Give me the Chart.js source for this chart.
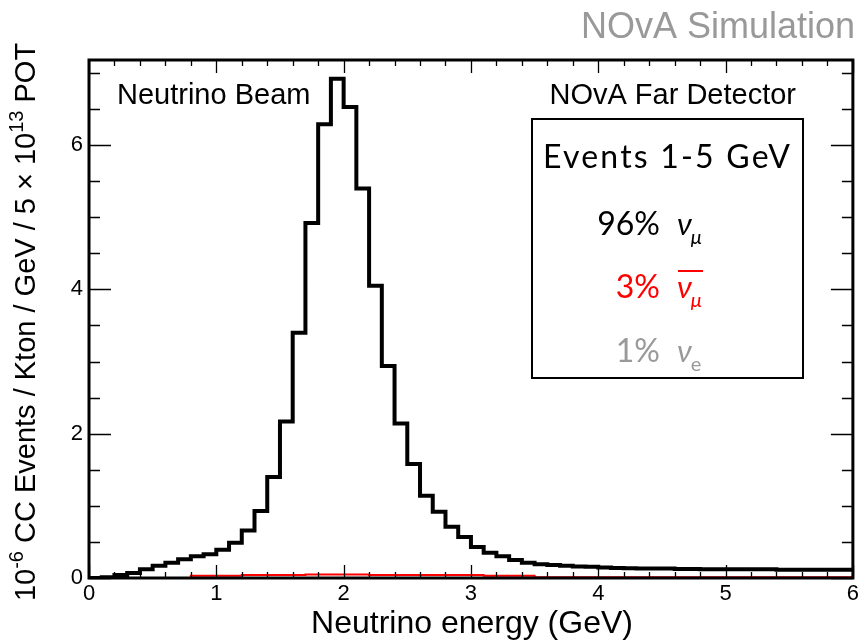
<!DOCTYPE html>
<html>
<head>
<meta charset="utf-8">
<title>NOvA Far Detector - neutrino beam spectrum</title>
<script src="https://cdn.jsdelivr.net/npm/chart.js@4.4.1/dist/chart.umd.min.js"></script>
<style>
  html, body { margin: 0; padding: 0; background: #fff; }
  #wrap { position: relative; width: 862px; height: 643px; }
</style>
</head>
<body>
<div id="wrap"><canvas id="chart"></canvas></div>
<script>
/* ============================================================
   DATA
============================================================ */
// bin edges in GeV, 60 bins of 0.1 GeV
const binEdges = [
  0.0, 0.1, 0.2, 0.3, 0.4, 0.5, 0.6, 0.7, 0.8, 0.9,
  1.0, 1.1, 1.2, 1.3, 1.4, 1.5, 1.6, 1.7, 1.8, 1.9,
  2.0, 2.1, 2.2, 2.3, 2.4, 2.5, 2.6, 2.7, 2.8, 2.9,
  3.0, 3.1, 3.2, 3.3, 3.4, 3.5, 3.6, 3.7, 3.8, 3.9,
  4.0, 4.1, 4.2, 4.3, 4.4, 4.5, 4.6, 4.7, 4.8, 4.9,
  5.0, 5.1, 5.2, 5.3, 5.4, 5.5, 5.6, 5.7, 5.8, 5.9, 6.0
];
// nu_mu CC rate per bin
const numuRate = [
  0.00, 0.01, 0.04, 0.07, 0.12, 0.17, 0.21, 0.26, 0.30, 0.33,
  0.39, 0.49, 0.66, 0.93, 1.40, 2.17, 3.40, 4.92, 6.29, 6.92,
  6.53, 5.40, 4.05, 2.94, 2.14, 1.58, 1.14, 0.92, 0.71, 0.57,
  0.43, 0.35, 0.30, 0.25, 0.21, 0.19, 0.18, 0.17, 0.16, 0.155,
  0.145, 0.14, 0.135, 0.13, 0.13, 0.13, 0.125, 0.125, 0.12, 0.12,
  0.12, 0.12, 0.12, 0.12, 0.115, 0.115, 0.115, 0.115, 0.115, 0.115
];
// anti nu_mu CC rate per bin
const numubarRate = [
  0.00, 0.00, 0.00, 0.00, 0.00, 0.00, 0.00, 0.00, 0.03, 0.03,
  0.03, 0.03, 0.04, 0.04, 0.04, 0.04, 0.04, 0.05, 0.05, 0.05,
  0.05, 0.05, 0.04, 0.04, 0.04, 0.04, 0.04, 0.04, 0.04, 0.04,
  0.04, 0.03, 0.03, 0.03, 0.03, 0.01, 0.01, 0.01, 0.01, 0.01,
  0.01, 0.01, 0.01, 0.01, 0.01, 0.01, 0.01, 0.01, 0.01, 0.01,
  0.01, 0.01, 0.01, 0.01, 0.01, 0.01, 0.01, 0.01, 0.01, 0.01
];

const xTickValues = [0, 1, 2, 3, 4, 5, 6];
const yTickValues = [0, 2, 4, 6];
const xMinorStep = 0.2;
const yMinorStep = 0.5;
const yMax = 7.18;

const boxTitle = 'Events 1-5 GeV';
const boxPercents = ['96%', '3%', '1%'];
const boxFlavours = [
  { sym: 'ν', sub: 'μ', bar: false },
  { sym: 'ν', sub: 'μ', bar: true },
  { sym: 'ν', sub: 'e', bar: false }
];
const boxColors = ['#000000', '#ff0000', '#999999'];

// y title pieces, second flag = superscript
const yTitleParts = [
  ['10', false], ['-6', true], [' CC Events / Kton / GeV / 5 × 10', false], ['13', true], [' POT', false]
];

const SANS = '"Liberation Sans", Arial, Helvetica, sans-serif';
const GEO = 'Lato, "DejaVu Sans", sans-serif';

/* ============================================================
   HELPERS
============================================================ */
function histPoints(vals) {
  // one point per lower edge, plus a closing point at the last edge
  return binEdges.map((e, i) => ({ x: e, y: vals[Math.min(i, vals.length - 1)] }));
}

function drawTicks(ctx, chart) {
  const { left, right, top, bottom } = chart.chartArea;
  const xs = chart.scales.x, ys = chart.scales.y;
  ctx.save();
  ctx.strokeStyle = '#000';
  ctx.lineWidth = 1.3;
  ctx.beginPath();
  // x ticks, bottom and top, pointing in
  for (let v = 0; v <= 6.0001; v += xMinorStep) {
    const major = xTickValues.some(t => Math.abs(t - v) < 1e-6);
    const len = major ? 13 : 6;
    const px = Math.round(xs.getPixelForValue(v)) + 0.5;
    ctx.moveTo(px, bottom); ctx.lineTo(px, bottom - len);
    ctx.moveTo(px, top); ctx.lineTo(px, top + len);
  }
  // y ticks, left and right
  for (let v = 0; v <= yMax + 1e-6; v += yMinorStep) {
    const major = yTickValues.some(t => Math.abs(t - v) < 1e-6);
    const len = major ? 22 : 11;
    const py = Math.round(ys.getPixelForValue(v)) + 0.5;
    ctx.moveTo(left, py); ctx.lineTo(left + len, py);
    ctx.moveTo(right, py); ctx.lineTo(right - len, py);
  }
  ctx.stroke();

  // frame
  ctx.lineWidth = 3;
  ctx.strokeRect(left, top, right - left, bottom - top);
  ctx.restore();
}

function drawYTitle(ctx, cx, cy, size) {
  ctx.save();
  ctx.translate(cx, cy);
  ctx.rotate(-Math.PI / 2);
  ctx.fillStyle = '#000';
  ctx.textBaseline = 'alphabetic';
  ctx.textAlign = 'left';
  const supSize = Math.round(size * 0.68);
  let total = 0;
  yTitleParts.forEach(([t, sup]) => {
    ctx.font = (sup ? supSize : size) + 'px ' + SANS;
    total += ctx.measureText(t).width;
  });
  let x = -total / 2;
  yTitleParts.forEach(([t, sup]) => {
    ctx.font = (sup ? supSize : size) + 'px ' + SANS;
    ctx.fillText(t, x, sup ? -size * 0.42 : 0);
    x += ctx.measureText(t).width;
  });
  ctx.restore();
}

function drawBox(ctx) {
  ctx.save();
  ctx.strokeStyle = '#000';
  ctx.lineWidth = 2;
  ctx.strokeRect(532, 119, 271, 259);

  ctx.fillStyle = '#000';
  ctx.textBaseline = 'alphabetic';
  ctx.textAlign = 'left';
  ctx.font = '32px ' + GEO;
  ctx.letterSpacing = '2.2px';
  ctx.fillText(boxTitle, 543, 168);
  ctx.letterSpacing = '0px';

  const baselines = [235, 298, 362];
  boxPercents.forEach((p, i) => {
    const y = baselines[i];
    const f = boxFlavours[i];
    ctx.fillStyle = boxColors[i];
    ctx.strokeStyle = boxColors[i];
    ctx.textAlign = 'right';
    ctx.font = '32px ' + GEO;
    ctx.fillText(p, 660, y);
    ctx.textAlign = 'left';
    ctx.font = 'italic 31px ' + GEO;
    ctx.fillText(f.sym, 677, y);
    const w = ctx.measureText(f.sym).width;
    ctx.font = (f.sub === 'μ' ? 'italic ' : '') + '20px ' + GEO;
    ctx.fillText(f.sub, 677 + w - 1, y + 9);
    if (f.bar) {
      ctx.lineWidth = 2;
      ctx.beginPath();
      ctx.moveTo(678, y - 27);
      ctx.lineTo(703, y - 27);
      ctx.stroke();
    }
  });
  ctx.restore();
}

/* ============================================================
   DECORATION PLUGIN
============================================================ */
const rootStyle = {
  id: 'rootStyle',
  afterDraw(chart) {
    const ctx = chart.ctx;
    drawTicks(ctx, chart);

    ctx.save();
    ctx.fillStyle = '#000';
    ctx.textBaseline = 'alphabetic';
    // x title
    ctx.font = '32px ' + SANS;
    ctx.textAlign = 'center';
    ctx.fillText('Neutrino energy (GeV)', 472, 633);
    // labels inside the frame
    ctx.font = '29px ' + SANS;
    ctx.textAlign = 'left';
    ctx.fillText('Neutrino Beam', 117, 104);
    ctx.textAlign = 'right';
    ctx.fillText('NOvA Far Detector', 796, 104);
    // simulation tag
    ctx.fillStyle = '#999999';
    ctx.font = '36px ' + SANS;
    ctx.fillText('NOvA Simulation', 855, 38);
    ctx.restore();

    drawYTitle(ctx, 35, 322, 29);
    drawBox(ctx);
  }
};

/* ============================================================
   CHART
============================================================ */
new Chart(document.getElementById('chart'), {
  type: 'line',
  data: {
    datasets: [
      {
        label: 'anti nu_mu',
        data: histPoints(numubarRate),
        borderColor: '#ff0000',
        borderWidth: 2,
        stepped: true,
        pointRadius: 0,
        fill: false
      },
      {
        label: 'nu_mu',
        data: histPoints(numuRate),
        borderColor: '#000000',
        borderWidth: 4,
        borderJoinStyle: 'miter',
        stepped: true,
        pointRadius: 0,
        fill: false
      }
    ]
  },
  options: {
    responsive: true,
    maintainAspectRatio: false,
    animation: false,
    events: [],
    layout: { padding: { top: 60, right: 9, left: 0, bottom: 0 } },
    plugins: { legend: { display: false }, tooltip: { enabled: false } },
    scales: {
      x: {
        type: 'linear',
        min: 0,
        max: 6,
        grid: { display: false, drawTicks: false },
        border: { display: false },
        afterBuildTicks: s => { s.ticks = xTickValues.map(v => ({ value: v })); },
        afterFit: s => { s.height = 65; },
        ticks: {
          padding: 3,
          maxRotation: 0,
          color: '#000',
          font: { family: SANS, size: 22 }
        }
      },
      y: {
        min: 0,
        max: yMax,
        grid: { display: false, drawTicks: false },
        border: { display: false },
        afterBuildTicks: s => { s.ticks = yTickValues.map(v => ({ value: v })); },
        afterFit: s => { s.width = 89; },
        ticks: {
          padding: 6,
          color: '#000',
          font: { family: SANS, size: 22 }
        }
      }
    }
  },
  plugins: [rootStyle]
});
</script>
</body>
</html>
